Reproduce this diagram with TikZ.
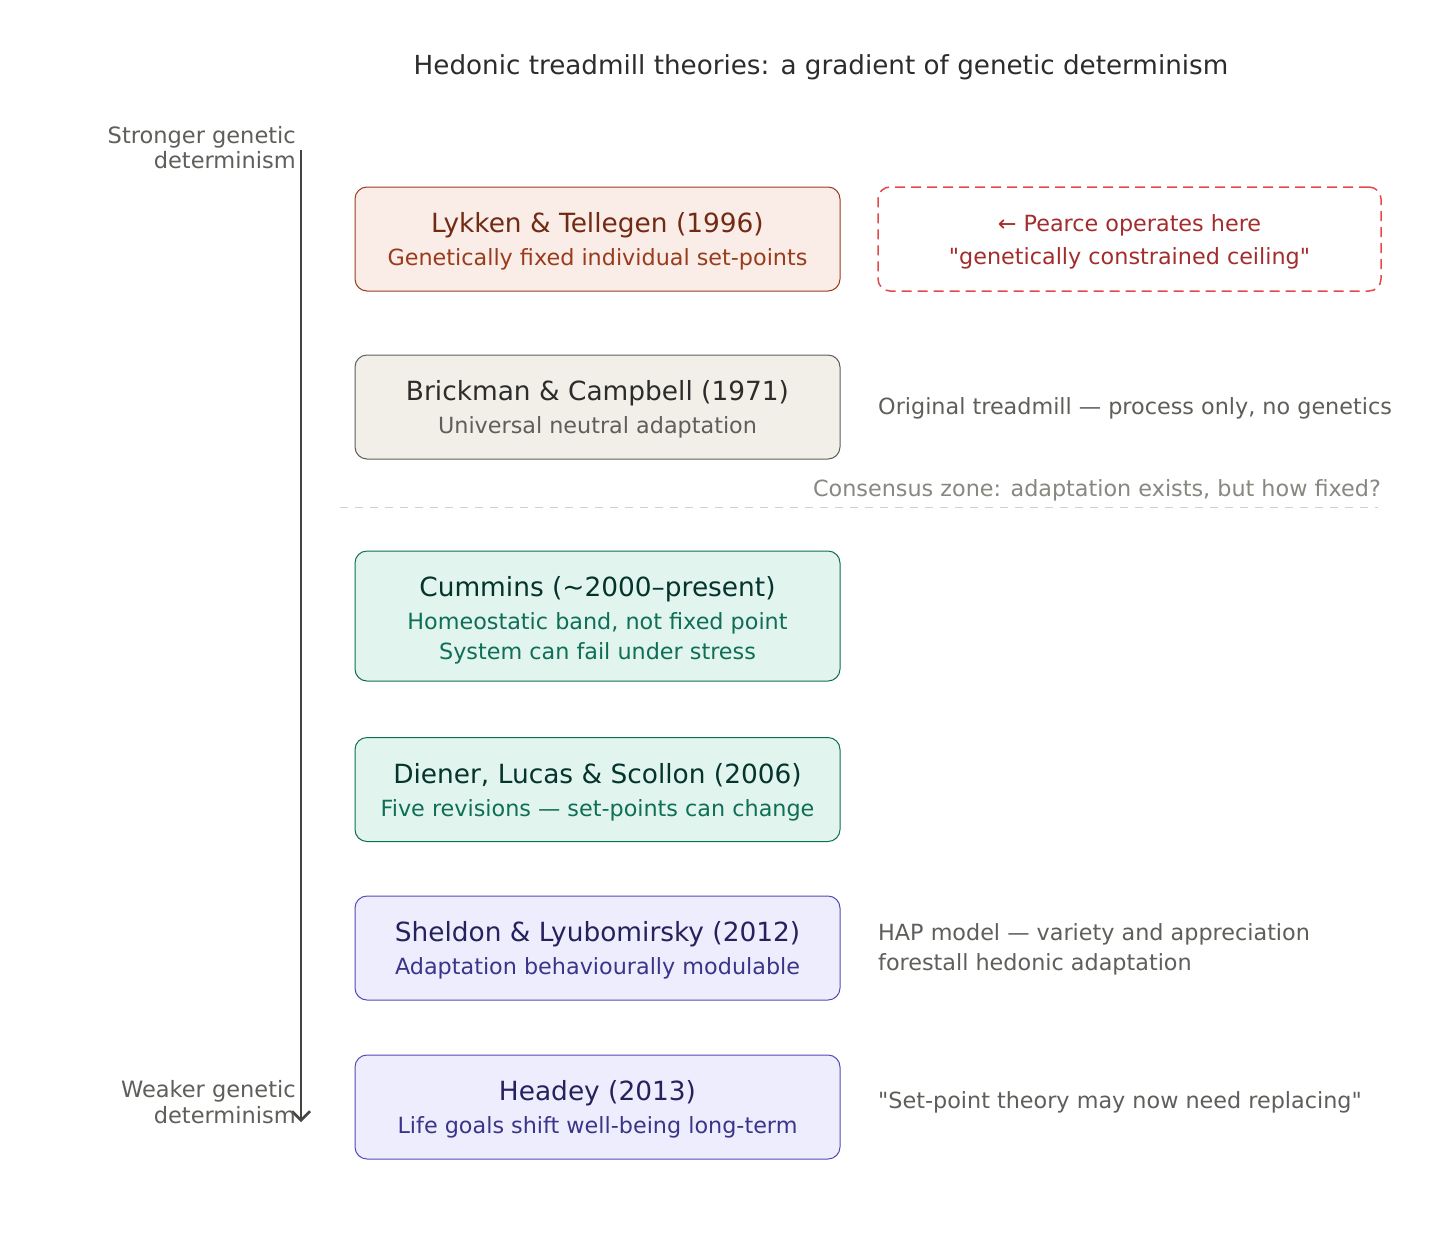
\documentclass[tikz,border=0pt]{standalone}
\usepackage{fontspec}
\setmainfont{DejaVu Sans}[Ligatures=TeXOff]
\usetikzlibrary{arrows.meta}
\definecolor{redfill}{HTML}{FAECE7}
\definecolor{redline}{HTML}{993C1D}
\definecolor{redtitle}{HTML}{712B13}
\definecolor{grayfill}{HTML}{F1EFE8}
\definecolor{grayline}{HTML}{5F5E5A}
\definecolor{graytitle}{HTML}{2C2C2A}
\definecolor{greenfill}{HTML}{E1F5EE}
\definecolor{greenline}{HTML}{0F6E56}
\definecolor{greentitle}{HTML}{04342C}
\definecolor{purpfill}{HTML}{EEEDFE}
\definecolor{purpline}{HTML}{534AB7}
\definecolor{purptitle}{HTML}{26215C}
\definecolor{purpsub}{HTML}{3C3489}
\definecolor{dashred}{HTML}{E24B4A}
\definecolor{dashtext}{HTML}{A32D2D}
\definecolor{sidegray}{HTML}{5F5E5A}
\definecolor{consgray}{HTML}{888780}
\definecolor{sepgray}{HTML}{D3D1C7}
\definecolor{axisgray}{HTML}{444441}
\definecolor{maintitle}{HTML}{2C2C2A}
\tikzset{
  box/.style={draw, rounded corners=12pt, minimum width=485pt, minimum height=104pt, inner sep=0pt, line width=1pt},
  ttl/.style={anchor=base, font=\fontsize{26.4}{30}\selectfont, inner sep=0pt},
  subt/.style={anchor=base, font=\fontsize{22.3}{26}\selectfont, inner sep=0pt},
  side/.style={anchor=base west, font=\fontsize{22.3}{26}\selectfont, inner sep=0pt, text=sidegray},
  axlbl/.style={anchor=base east, font=\fontsize{22.5}{26}\selectfont, inner sep=0pt, text=sidegray},
}
\begin{document}
\begin{tikzpicture}[x=1pt,y=-1pt]
\useasboundingbox[fill=white] (0,0) rectangle (1456,1232);
% title
\node[anchor=base, font=\fontsize{26.2}{30}\selectfont, text=maintitle, inner sep=0pt] (title) at (821,74) {Hedonic treadmill theories: a gradient of genetic determinism};
% axis
\coordinate (axtop) at (301,150);
\coordinate (axbot) at (301,1122);
\draw[axisgray, line width=2.5pt, -{Straight Barb[length=9pt,width=18pt,line width=2.5pt]}] (axtop) -- (axbot);
\node[axlbl] (s1) at (296,143) {Stronger genetic};
\node[axlbl] (s2) at (296,168) {determinism};
\node[axlbl] (w1) at (296,1097) {Weaker genetic};
\node[axlbl] (w2) at (296,1123) {determinism};
% boxes
\node[box, fill=redfill, draw=redline] (b1) at (597.5,239) {};
\node[ttl, text=redtitle] (b1t) at (597.5,232) {Lykken \& Tellegen (1996)};
\node[subt, text=redline] (b1s) at (597.5,265) {Genetically fixed individual set-points};

\node[box, fill=grayfill, draw=grayline] (b2) at (597.5,407) {};
\node[ttl, text=graytitle] (b2t) at (597.5,400) {Brickman \& Campbell (1971)};
\node[subt, text=grayline] (b2s) at (597.5,433) {Universal neutral adaptation};

\node[box, fill=greenfill, draw=greenline, minimum height=130pt] (b3) at (597.5,616) {};
\node[ttl, text=greentitle] (b3t) at (597.5,596) {Cummins (\textasciitilde 2000–present)};
\node[subt, text=greenline] (b3s) at (597.5,629) {Homeostatic band, not fixed point};
\node[subt, text=greenline] (b3u) at (597.5,659) {System can fail under stress};

\node[box, fill=greenfill, draw=greenline] (b4) at (597.5,789.5) {};
\node[ttl, text=greentitle] (b4t) at (597.5,783) {Diener, Lucas \& Scollon (2006)};
\node[subt, text=greenline] (b4s) at (597.5,816) {Five revisions — set-points can change};

\node[box, fill=purpfill, draw=purpline] (b5) at (597.5,948) {};
\node[ttl, text=purptitle] (b5t) at (597.5,941) {Sheldon \& Lyubomirsky (2012)};
\node[subt, text=purpsub] (b5s) at (597.5,974) {Adaptation behaviourally modulable};

\node[box, fill=purpfill, draw=purpline] (b6) at (597.5,1107) {};
\node[ttl, text=purptitle] (b6t) at (597.5,1100) {Headey (2013)};
\node[subt, text=purpsub] (b6s) at (597.5,1133) {Life goals shift well-being long-term};

% dashed Pearce box
\node[draw=dashred, dash pattern=on 10pt off 6pt, line width=1.5pt, rounded corners=12pt, minimum width=503pt, minimum height=104pt, inner sep=0pt] (pb) at (1129.5,239) {};
\node[subt, text=dashtext] (pb1) at (1129.5,231) {← Pearce operates here};
\node[subt, text=dashtext] (pb2) at (1129.5,264) {"genetically constrained ceiling"};

% side notes
\node[side] (n2) at (878,414) {Original treadmill — process only, no genetics};
\node[side] (n5a) at (878,940) {HAP model — variety and appreciation};
\node[side] (n5b) at (878,970) {forestall hedonic adaptation};
\node[side] (n6) at (878,1108) {"Set-point theory may now need replacing"};

% consensus separator
\node[anchor=base east, font=\fontsize{22.3}{26}\selectfont, text=consgray, inner sep=0pt] (cons) at (1381,496) {Consensus zone: adaptation exists, but how fixed?};
\coordinate (sepL) at (340,507);
\coordinate (sepR) at (1378,507);
\draw[sepgray, line width=1pt, dash pattern=on 8pt off 7pt] (sepL) -- (sepR);
\end{tikzpicture}
\end{document}
